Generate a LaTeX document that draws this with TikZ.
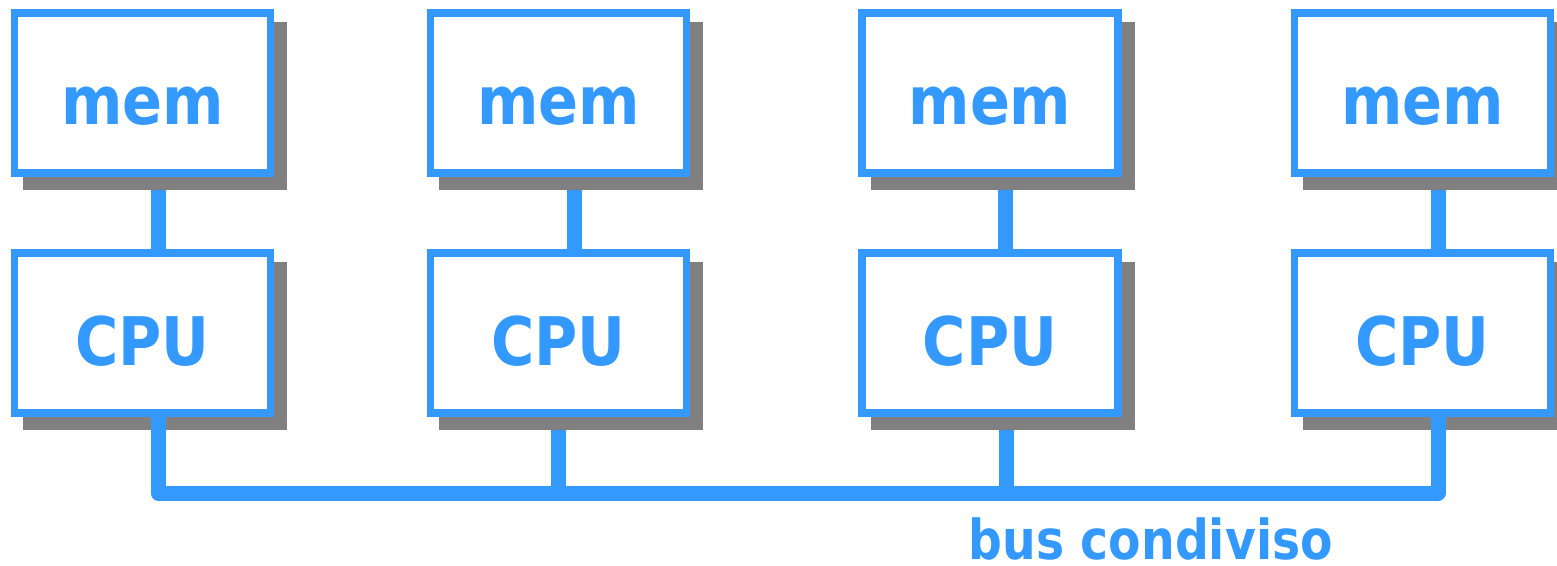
\documentclass[tikz,border=0pt]{standalone}
\usepackage{fontspec}
\setmainfont{DejaVu Sans}
\newfontfamily\boxfont{DejaVu Sans}[FakeStretch=0.88]
\newfontfamily\busfont{DejaVu Sans}[FakeStretch=0.86]
\definecolor{busblue}{RGB}{51,153,255}
\definecolor{shadegray}{RGB}{128,128,128}
\pgfdeclarelayer{links}
\pgfdeclarelayer{shadows}
\pgfdeclarelayer{buslayer}
\pgfsetlayers{links,shadows,buslayer,main}

\begin{document}
\begin{tikzpicture}[x=1pt,y=-1pt,
  unit/.style={draw=busblue, line width=7.5pt, fill=white,
    minimum width=256pt, minimum height=160pt, inner sep=0pt, outer sep=0pt},
  unitlabel/.style={anchor=base, inner sep=0pt, text=busblue,
    font=\boxfont\bfseries\fontsize{67pt}{67pt}\selectfont},
  link/.style={draw=busblue, line width=15pt},
  bus/.style={draw=busblue, line width=15pt, line join=round},
  buslabel/.style={anchor=base, inner sep=0pt, text=busblue,
    font=\busfont\bfseries\fontsize{55pt}{55pt}\selectfont}]
  \useasboundingbox (0,0) rectangle (1557,565);

  % memory and processor boxes
  \foreach \i/\cx in {1/142.5, 2/558.5, 3/990, 4/1422.5} {
    \node[unit] (m\i) at (\cx,93) {};
    \node[unitlabel] (ml\i) at ([yshift=-31.5pt]m\i.center) {mem};
    \node[unit] (c\i) at (\cx,333) {};
    \node[unitlabel] (cl\i) at ([yshift=-32pt]c\i.center) {CPU};
  }

  % drop shadows behind the boxes
  \begin{pgfonlayer}{shadows}
    \foreach \i in {1,...,4} {
      \fill[shadegray] ([shift={(8.5,9)}]m\i.north west) rectangle ([shift={(16.5,17)}]m\i.south east);
      \fill[shadegray] ([shift={(8.5,9)}]c\i.north west) rectangle ([shift={(16.5,17)}]c\i.south east);
    }
  \end{pgfonlayer}

  % memory-to-CPU links and the two inner bus taps
  \coordinate (busline) at (0,493);
  \begin{pgfonlayer}{links}
    \foreach \i in {1,...,4} {
      \draw[link] ([xshift=15.75pt]m\i.south) -- ([xshift=15.75pt]c\i.north);
    }
    \draw[link] (c2.south) -- (c2.south |- busline);
    \draw[link] ([xshift=16pt]c3.south) -- ([xshift=16pt]c3.south |- busline);
  \end{pgfonlayer}

  % shared bus with its two outer taps
  \coordinate (b1) at ([xshift=15.5pt]c1.south);
  \coordinate (b4) at ([xshift=15.5pt]c4.south);
  \begin{pgfonlayer}{buslayer}
    \draw[bus] (b1) -- (b1 |- busline) -| (b4);
  \end{pgfonlayer}

  \node[buslabel] (buslbl) at (1150.8,559.5) {bus condiviso};
\end{tikzpicture}
\end{document}
